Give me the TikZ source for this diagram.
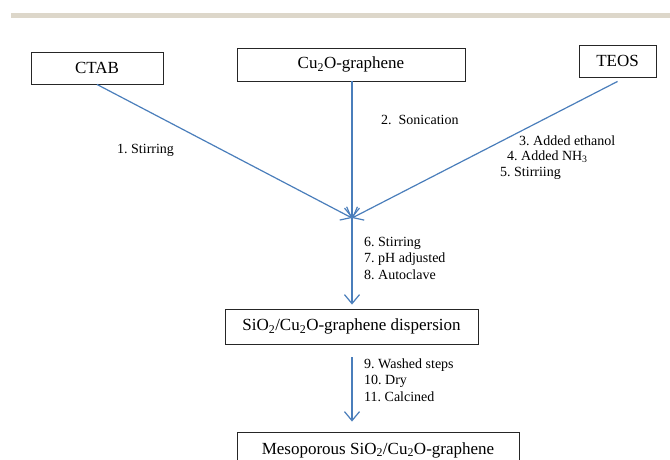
\documentclass[tikz,border=0pt]{standalone}
\usepackage{fontspec}
\setmainfont{Liberation Serif}
\usetikzlibrary{arrows.meta}
\definecolor{flowblue}{HTML}{4A7EBB}
\definecolor{bandgray}{HTML}{DDD7CA}
\frenchspacing
\begin{document}
\begin{tikzpicture}[x=1pt,y=-1pt,
  box/.style={draw=black!85,line width=0.9pt,inner sep=0pt,font=\fontsize{17}{20}\selectfont},
  flow/.style={draw=flowblue,line width=1.2pt},
  flowarrow/.style={flow,-{Straight Barb[length=9pt,width=15pt,line width=1.2pt]}},
  lbl/.style={anchor=west,inner sep=0pt,font=\fontsize{14}{16}\selectfont}]
\useasboundingbox (0,0) rectangle (670,459);
\clip (0,0) rectangle (670,459);
\fill[bandgray] (11,13) rectangle (670,18);
\node[box,minimum width=132pt,minimum height=32pt] (ctab) at (97,68) {CTAB};
\node[box,minimum width=228pt,minimum height=33pt] (cu) at (351,64.5) {Cu\textsubscript{2}O-graphene};
\node[box,minimum width=77pt,minimum height=32pt] (teos) at (617.5,61) {TEOS};
\node[box,minimum width=253pt,minimum height=35pt] (sio) at (351.5,326.5) {SiO\textsubscript{2}/Cu\textsubscript{2}O-graphene dispersion};
\node[box,minimum width=282pt,minimum height=36pt] (meso) at (378,450) {Mesoporous SiO\textsubscript{2}/Cu\textsubscript{2}O-graphene};
\coordinate (m) at (352,218);
\draw[flowarrow] (ctab.south) -- (m);
\draw[flowarrow] (cu.south -| m) -- (m);
\draw[flowarrow] ([yshift=-4pt]teos.south) -- (m);
\draw[flowarrow,shorten >=4pt] (m) -- (m |- sio.north);
\draw[flowarrow,shorten <=13pt,shorten >=10pt] (sio.south -| m) -- (m |- meso.north);
\node[lbl] (l1) at (117,150) {1. Stirring};
\node[lbl] (l2) at (381,120) {2.\ \ Sonication};
\node[lbl] (l3) at (519,141) {3. Added ethanol};
\node[lbl] (l4) at (507,157) {4. Added NH\textsubscript{3}};
\node[lbl] (l5) at (500,173) {5. Stirriing};
\node[lbl] (l6) at (364,243) {6. Stirring};
\node[lbl] (l7) at (364,259) {7. pH adjusted};
\node[lbl] (l8) at (364,275) {8. Autoclave};
\node[lbl] (l9) at (364,365) {9. Washed steps};
\node[lbl] (l10) at (364,381) {10. Dry};
\node[lbl] (l11) at (364,397) {11. Calcined};
\end{tikzpicture}
\end{document}
